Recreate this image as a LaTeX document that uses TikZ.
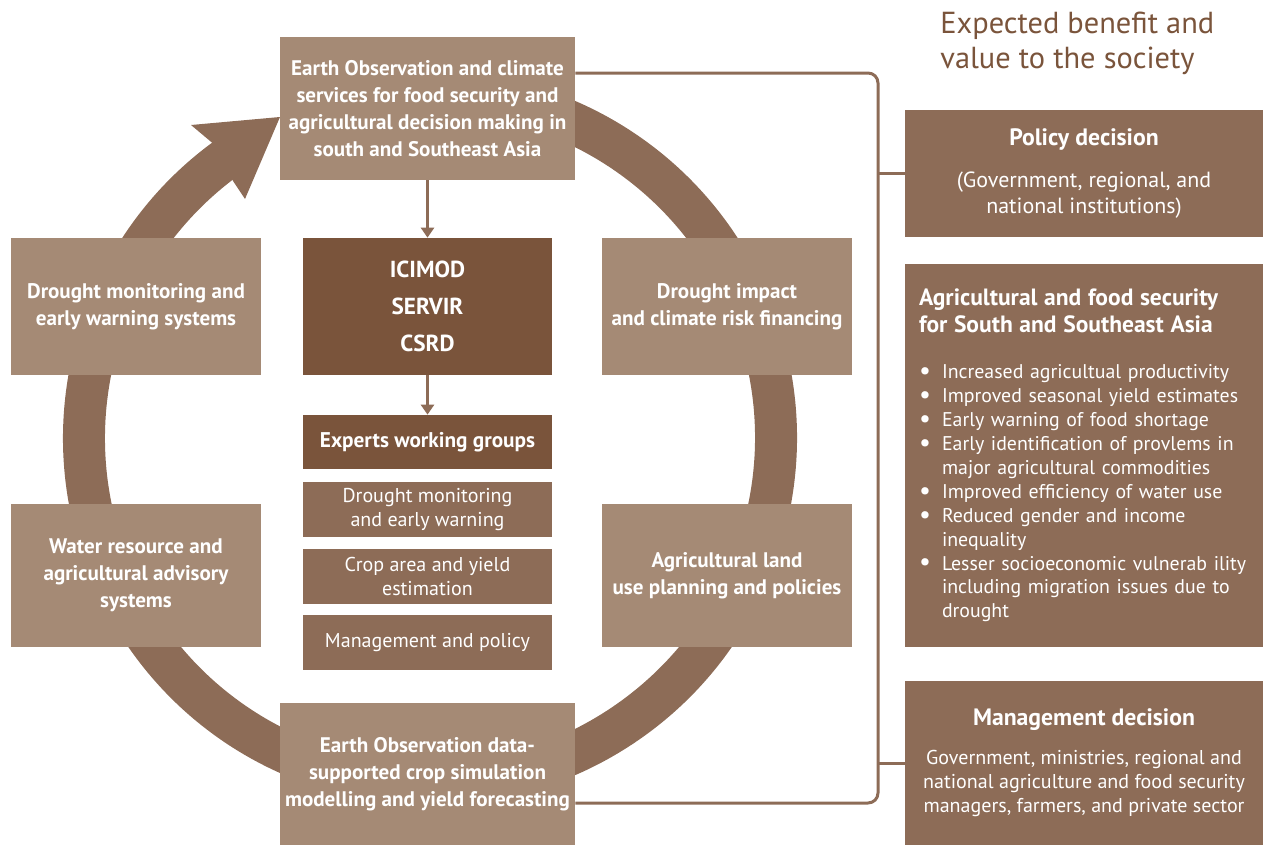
\documentclass[tikz,border=0pt]{standalone}
\usepackage{fontspec}
\setmainfont{PT Sans}
\usepackage{tikz}
\usetikzlibrary{arrows.meta}

\definecolor{boxlight}{HTML}{A58A75}
\definecolor{boxmid}{HTML}{8D6C57}
\definecolor{boxdark}{HTML}{7A543B}

\newcommand{\benefit}[1]{\par\hangindent=0.46cm\hangafter=1\noindent\makebox[0.46cm][l]{\raisebox{-0.04em}{\fontsize{15}{15}\selectfont\textbullet}}#1\par}

\tikzset{
  cyclebox/.style={fill=boxlight, text=white, align=center, inner sep=0pt, font=\bfseries\fontsize{12}{15.4}\selectfont},
  hubbox/.style={fill=boxdark, text=white, align=center, inner sep=0pt, minimum width=4.98cm},
  groupbox/.style={fill=boxmid, text=white, align=center, inner sep=0pt, minimum width=4.98cm, minimum height=1.1cm, font=\fontsize{11.4}{14.2}\selectfont},
  valuebox/.style={fill=boxmid, text=white, inner sep=0pt, minimum width=7.16cm, font=\fontsize{11.3}{13.6}\selectfont},
  flow/.style={boxmid, line width=0.06cm, -{Triangle[length=0.2cm, width=0.26cm]}},
  bracket/.style={boxmid, line width=0.06cm, rounded corners=0.2cm},
}

\begin{document}
\begin{tikzpicture}[x=0.02cm, y=-0.02cm]
	\useasboundingbox (0,0) rectangle (1263,845);

	%ring
	\draw[boxmid, line width=0.84cm] (430,438) ++(-124:346) arc[start angle=-124, end angle=-450, radius=346];
	\fill[boxmid] (280,117) -- (191,125) -- (216,146) -- (233,181) -- (245,199) -- cycle;

	%boxes on the ring
	\node[cyclebox, minimum width=5.9cm, minimum height=2.86cm] (source) at (427.5,108.5) {Earth Observation and climate\\services for food security and\\agricultural decision making in\\south and Southeast Asia};
	\node[cyclebox, minimum width=5cm, minimum height=2.74cm] (monitor) at (136,306.5) {Drought monitoring and\\early warning systems};
	\node[cyclebox, minimum width=5cm, minimum height=2.74cm] (finance) at (727,306.5) {Drought impact\\and climate risk financing};
	\node[cyclebox, minimum width=5cm, minimum height=2.86cm] (water) at (136,575.5) {Water resource and\\agricultural advisory\\systems};
	\node[cyclebox, minimum width=5cm, minimum height=2.86cm] (landuse) at (727,575.5) {Agricultural land\\use planning and policies};
	\node[cyclebox, minimum width=5.9cm, minimum height=2.84cm] (forecast) at (427.5,774) {Earth Observation data-\\supported crop simulation\\modelling and yield forecasting};

	%partners and groups
	\node[hubbox, minimum height=2.74cm, font=\bfseries\fontsize{13.2}{21}\selectfont] (partners) at (427.5,306.5) {ICIMOD\\SERVIR\\CSRD};
	\node[hubbox, minimum height=1.08cm, font=\bfseries\fontsize{12.1}{14}\selectfont] (experts) at (427.5,442) {Experts working groups};
	\node[groupbox] (wgdrought) at (427.5,509.5) {Drought monitoring\\and early warning};
	\node[groupbox] (wgcrop) at (427.5,576.5) {Crop area and yield\\estimation};
	\node[groupbox] (wgpolicy) at (427.5,642.5) {Management and policy};
	\draw[flow] (source) -- (partners);
	\draw[flow] (partners) -- (experts);

	%benefits
	\node[text=boxdark, anchor=north west, align=left, inner sep=0pt, font=\fontsize{17.3}{19.9}\selectfont] (title) at (940,12) {Expected benefit and\\value to the society};
	\node[valuebox, minimum height=2.54cm, align=center, font=\fontsize{12.5}{14.7}\selectfont] (policy) at (1084,173.5) {{\bfseries\fontsize{13.5}{16}\selectfont Policy decision}\\[0.33cm](Government, regional, and\\national institutions)};
	\node[valuebox, minimum height=7.66cm, text width=6.6cm, align=left] (agri) at (1084,455.5) {{\bfseries\fontsize{13.4}{15.3}\selectfont Agricultural and food security\\for South and Southeast Asia\par}
		\vspace{0.45cm}
		\benefit{Increased agricultual productivity}
		\benefit{Improved seasonal yield estimates}
		\benefit{Early warning of food shortage}
		\benefit{Early identification of provlems in\newline major agricultural commodities}
		\benefit{Improved efficiency of water use}
		\benefit{Reduced gender and income\newline inequality}
		\benefit{Lesser socioeconomic vulnerab ility\newline including migration issues due to\newline drought}};
	\node[valuebox, minimum height=3.28cm, align=center, font=\fontsize{11.4}{13.6}\selectfont] (mgmt) at (1084,763) {{\bfseries\fontsize{13.5}{16}\selectfont Management decision}\\[0.3cm]Government, ministries, regional and\\national agriculture and food security\\managers, farmers, and private sector};

	%bracket
	\coordinate (spinetop) at (878,73);
	\coordinate (spinebottom) at (878,803);
	\draw[bracket] (source.east |- spinetop) -- (spinetop) -- (spinebottom) -- (forecast.east |- spinebottom);
	\draw[bracket] (spinetop |- policy.west) -- (policy.west);
	\draw[bracket] (spinetop |- mgmt.west) -- (mgmt.west);
\end{tikzpicture}
\end{document}
